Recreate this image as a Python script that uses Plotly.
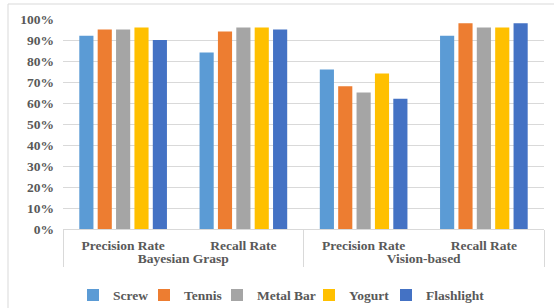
import plotly.graph_objects as go

groups = ["Bayesian Grasp", "Bayesian Grasp", "Vision-based", "Vision-based"]
metrics = ["Precision Rate", "Recall Rate", "Precision Rate", "Recall Rate"]
series_names = ["Screw", "Tennis", "Metal Bar", "Yogurt", "Flashlight"]
screw = [0.92, 0.84, 0.76, 0.92]
tennis = [0.95, 0.94, 0.68, 0.98]
metal_bar = [0.95, 0.96, 0.65, 0.96]
yogurt = [0.96, 0.96, 0.74, 0.96]
flashlight = [0.90, 0.95, 0.62, 0.98]
y_ticks = [0, 0.1, 0.2, 0.3, 0.4, 0.5, 0.6, 0.7, 0.8, 0.9, 1.0]

colors = ["#5B9BD5", "#ED7D31", "#A5A5A5", "#FFC000", "#4472C4"]
values = [screw, tennis, metal_bar, yogurt, flashlight]

FAM = "Liberation Serif, Times New Roman, serif"
bold = dict(family=FAM, size=13.5, color="#595959", weight="bold")

# legend left edges in pixels (plot area spans x=63..544)
L, R = 63, 544
legend_px = [73, 144, 217, 309, 386]
legend_ids = ["legend", "legend2", "legend3", "legend4", "legend5"]

fig = go.Figure()
for name, vals, c, lid in zip(series_names, values, colors, legend_ids):
    fig.add_trace(go.Bar(x=[groups, metrics], y=vals, name=name, legend=lid,
                         marker=dict(color=c, line=dict(width=0))))

legends = {}
for lid, px in zip(legend_ids, legend_px):
    legends[lid] = dict(orientation="h", x=(px - L) / (R - L), xanchor="left",
                        y=-0.315, yanchor="middle", font=bold, itemwidth=30,
                        bgcolor="rgba(0,0,0,0)")

fig.update_layout(
    width=554, height=308,
    margin=dict(l=L, r=554 - R, t=19, b=79, autoexpand=False),
    barmode="group", bargap=0.236, bargroupgap=0.23,
    plot_bgcolor="white", paper_bgcolor="white",
    font=bold,
    showlegend=True,
    xaxis=dict(type="multicategory", showline=True, linecolor="#D9D9D9", linewidth=1,
               showdividers=True, dividercolor="#D9D9D9", dividerwidth=1,
               tickfont=bold, ticks="", automargin=False, ticklabelstandoff=4),
    yaxis=dict(range=[0, 1.0], tickvals=y_ticks, tickformat=".0%",
               showgrid=True, gridcolor="#D9D9D9", gridwidth=1,
               zeroline=False, showline=False, ticks="", ticklabelstandoff=8,
               tickfont=bold, automargin=False),
    **legends,
)
fig.add_shape(type="rect", xref="paper", yref="paper",
              x0=-55/481, x1=1.05, y0=-1, y1=1+15/210,
              line=dict(color="#D9D9D9", width=1), fillcolor="rgba(0,0,0,0)", layer="below")
fig.write_html("out.html", config={"displayModeBar": False},
               post_script="document.body.style.margin='0';document.body.style.overflow='hidden';")
